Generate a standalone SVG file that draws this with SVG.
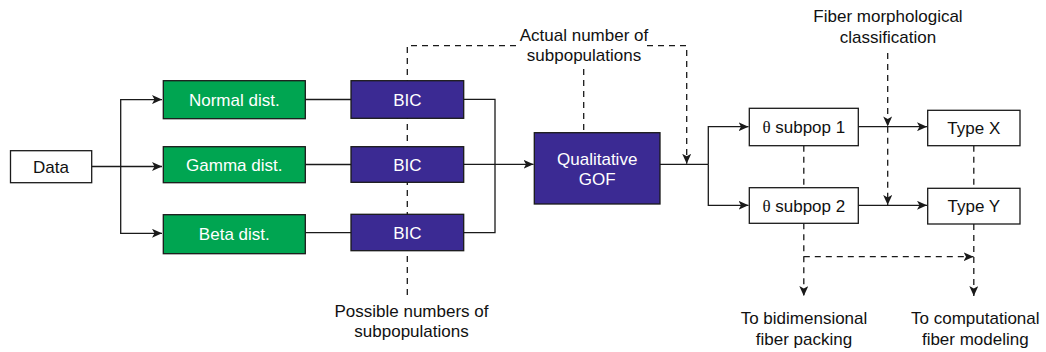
<svg xmlns="http://www.w3.org/2000/svg" width="1046" height="352" viewBox="0 0 1046 352">
<style>
text { font-family: "Liberation Sans", Arial, Helvetica, sans-serif; font-size: 17px; text-anchor: middle; fill: #111; }
.w { fill: #ffffff; }
.th { font-family: "Liberation Serif", "Times New Roman", serif; }
.box { fill: #ffffff; stroke: #1a1a1a; stroke-width: 1.3; }
.green { fill: #00a551; stroke: #1a1a1a; stroke-width: 1.3; }
.purple { fill: #3b2a93; stroke: #1a1a1a; stroke-width: 1.3; }
.ln { fill: none; stroke: #1a1a1a; stroke-width: 1.3; }
.dash { fill: none; stroke: #1a1a1a; stroke-width: 1.3; stroke-dasharray: 6 5; }
</style>
<defs>
<marker id="arr" markerUnits="userSpaceOnUse" markerWidth="11" markerHeight="9" refX="10" refY="4.5" orient="auto">
<path d="M0,0 L10,4.5 L0,9 L2.5,4.5 Z" fill="#1a1a1a"/>
</marker>
</defs>

<g id="connectors">
<!-- Data to distributions -->
<path class="ln" d="M92,166.5 H162" marker-end="url(#arr)"/>
<path class="ln" d="M120.7,166.5 V99.6 H162" marker-end="url(#arr)"/>
<path class="ln" d="M120.7,166.5 V233.3 H162" marker-end="url(#arr)"/>
<!-- distributions to BIC -->
<path class="ln" d="M305.3,99.5 H351"/>
<path class="ln" d="M305.3,164.5 H351"/>
<path class="ln" d="M305.3,232.7 H351"/>
<!-- BIC to GOF -->
<path class="ln" d="M463.7,99.3 H495 V232.7 H463.7"/>
<path class="ln" d="M463.7,164.3 H533.5" marker-end="url(#arr)"/>
<!-- GOF to subpops -->
<path class="ln" d="M660,164.3 H708.3"/>
<path class="ln" d="M708.3,164.3 V126.7 H748.5" marker-end="url(#arr)"/>
<path class="ln" d="M708.3,164.3 V205.3 H748.5" marker-end="url(#arr)"/>
<!-- subpops to types -->
<path class="ln" d="M858.3,126.7 H927" marker-end="url(#arr)"/>
<path class="ln" d="M858.3,205.3 H927" marker-end="url(#arr)"/>
<!-- dashed: possible numbers / actual number -->
<path class="dash" d="M407.3,295 V45.7 H516"/>
<path class="dash" d="M647,45.7 H686.7 V163.8" marker-end="url(#arr)"/>
<path class="dash" d="M583.7,69 V132.7"/>
<!-- dashed: fiber morphological classification -->
<path class="dash" d="M887.7,53 V126.4" marker-end="url(#arr)"/>
<path class="dash" d="M887.7,126.7 V205" marker-end="url(#arr)"/>
<!-- dashed: between subpops and types -->
<path class="dash" d="M803.8,145.7 V187.7"/>
<path class="dash" d="M973.8,145.7 V188.3"/>
<!-- dashed: outputs -->
<path class="dash" d="M803.8,223.3 V296" marker-end="url(#arr)"/>
<path class="dash" d="M803.8,256.7 H973.5" marker-end="url(#arr)"/>
<path class="dash" d="M973.8,224 V296" marker-end="url(#arr)"/>
</g>

<g id="data">
<rect class="box" x="10.5" y="150.7" width="81.2" height="32"/>
<text x="51" y="172.7">Data</text>
</g>
<g id="normal">
<rect class="green" x="163.3" y="80.7" width="142" height="38"/>
<text class="w" x="234.3" y="105.7">Normal dist.</text>
</g>
<g id="gamma">
<rect class="green" x="163.3" y="146.7" width="142" height="36"/>
<text class="w" x="234.3" y="170.7">Gamma dist.</text>
</g>
<g id="beta">
<rect class="green" x="163.3" y="214.7" width="142" height="39"/>
<text class="w" x="234.3" y="240.2">Beta dist.</text>
</g>
<g id="bic1">
<rect class="purple" x="351" y="80.7" width="112.7" height="37.6"/>
<text class="w" x="407.3" y="105.5">BIC</text>
</g>
<g id="bic2">
<rect class="purple" x="351" y="146.7" width="112.7" height="35.6"/>
<text class="w" x="407.3" y="170.5">BIC</text>
</g>
<g id="bic3">
<rect class="purple" x="351" y="214.3" width="112.7" height="36.4"/>
<text class="w" x="407.3" y="238.5">BIC</text>
</g>
<g id="gof">
<rect class="purple" x="534.3" y="132.7" width="125.7" height="71.3"/>
<text class="w" x="597.2" y="164.5">Qualitative</text>
<text class="w" x="597.2" y="184.5">GOF</text>
</g>
<g id="subpop1">
<rect class="box" x="749.3" y="108.3" width="109" height="37.4"/>
<text x="803.8" y="133"><tspan class="th">θ</tspan> subpop 1</text>
</g>
<g id="subpop2">
<rect class="box" x="749.3" y="187.7" width="109" height="35.6"/>
<text x="803.8" y="211.5"><tspan class="th">θ</tspan> subpop 2</text>
</g>
<g id="typex">
<rect class="box" x="927.7" y="110.3" width="92.3" height="35.4"/>
<text x="973.8" y="134">Type X</text>
</g>
<g id="typey">
<rect class="box" x="927.7" y="188.3" width="92.3" height="35.7"/>
<text x="973.8" y="212">Type Y</text>
</g>

<g id="labels">
<text x="584" y="40.7">Actual number of</text>
<text x="584" y="60.5">subpopulations</text>
<text x="888" y="22">Fiber morphological</text>
<text x="888" y="43">classification</text>
<text x="411.5" y="316.5">Possible numbers of</text>
<text x="411.5" y="337">subpopulations</text>
<text x="804" y="323.5">To bidimensional</text>
<text x="804" y="345">fiber packing</text>
<text x="975.3" y="323.5">To computational</text>
<text x="975.3" y="345">fiber modeling</text>
</g>
</svg>
